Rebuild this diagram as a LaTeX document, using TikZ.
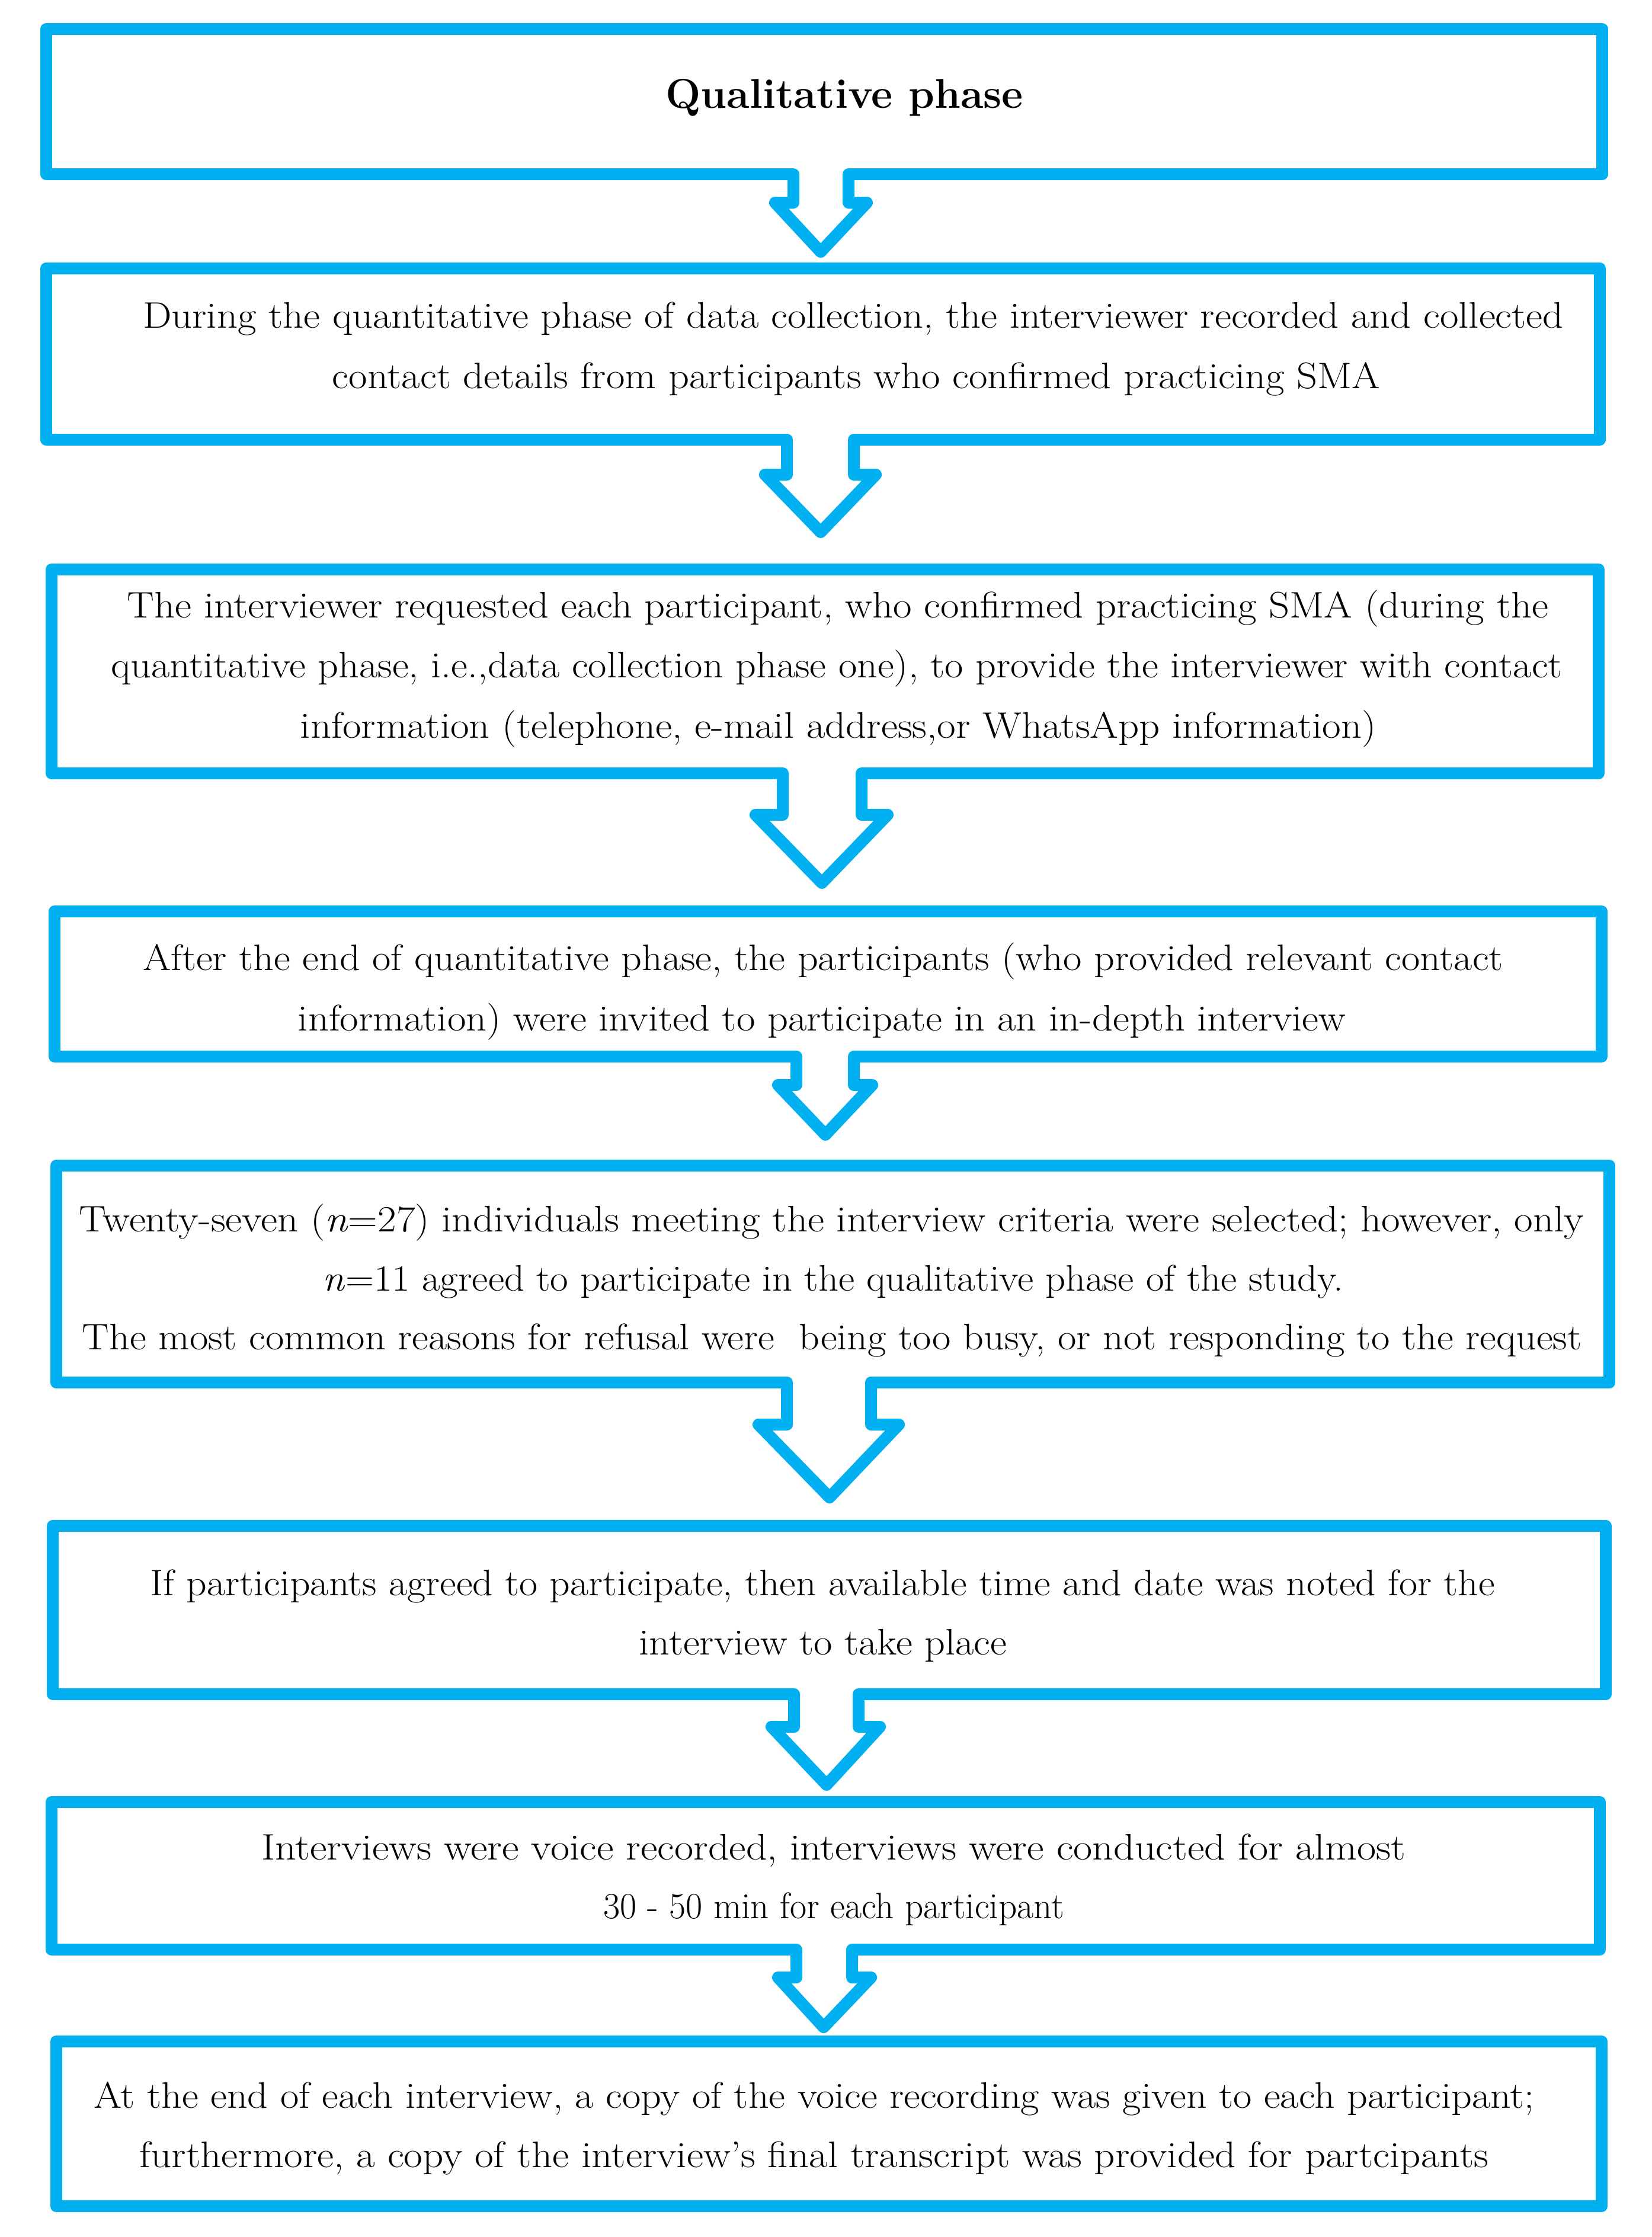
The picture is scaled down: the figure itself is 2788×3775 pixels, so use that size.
\documentclass[tikz,border=0pt]{standalone}
\usetikzlibrary{calc}
\definecolor{flowblue}{RGB}{0,176,240}
\tikzset{
  flowline/.style={draw=flowblue, line width=0.2cm, line join=round, line cap=round},
  box/.style={flowline, rectangle, inner sep=0pt, outer sep=0pt, fill=white},
  txt/.style={anchor=base, inner sep=0pt, font=\fontsize{17.7}{29}\selectfont},
  ttl/.style={anchor=base, inner sep=0pt, font=\fontsize{20}{24}\selectfont\bfseries},
}
% stretch a line horizontally to the width measured in the reference
\newcommand{\fitline}[2]{\resizebox{#1cm}{\height}{#2}}
% #1 from node, #2 to node, #3 shaft left x, #4 shaft right x, #5 shoulder drop,
% #6 wing left x, #7 wing right x, #8 tip x, #9 gap above target box
\newcommand{\blockarrow}[9]{%
  \coordinate (#1-sl) at (#1.south -| #3,0);
  \coordinate (#1-sr) at (#1.south -| #4,0);
  \coordinate (#1-ml) at ($(#1-sl)+(0,#5)$);
  \coordinate (#1-mr) at ($(#1-sr)+(0,#5)$);
  \coordinate (#1-wl) at (#1-ml -| #6,0);
  \coordinate (#1-wr) at (#1-mr -| #7,0);
  \coordinate (#1-tip) at ($(#2.north -| #8,0)+(0,-#9)$);
  \fill[white] ($(#1-sl)+(0,-11)$) -- (#1-ml) -- (#1-wl) -- (#1-tip) -- (#1-wr) -- (#1-mr) -- ($(#1-sr)+(0,-11)$) -- cycle;
  \draw[flowline] (#1-sl) -- (#1-ml) -- (#1-wl) -- (#1-tip) -- (#1-wr) -- (#1-mr) -- (#1-sr);
}
\begin{document}
\begin{tikzpicture}[x=0.01cm, y=-0.01cm]
\useasboundingbox (0,0) rectangle (2788,3775);
\fill[white] (0,0) rectangle (2788,3775);

% boxes
\node[box, minimum width={2626*0.01cm}, minimum height={245*0.01cm}] (b1) at (1391,171.5) {};
\node[box, minimum width={2622*0.01cm}, minimum height={289*0.01cm}] (b2) at (1389,597.5) {};
\node[box, minimum width={2611*0.01cm}, minimum height={344*0.01cm}] (b3) at (1392.5,1133) {};
\node[box, minimum width={2611*0.01cm}, minimum height={245*0.01cm}] (b4) at (1397.5,1660.5) {};
\node[box, minimum width={2621*0.01cm}, minimum height={366*0.01cm}] (b5) at (1405.5,2150) {};
\node[box, minimum width={2621*0.01cm}, minimum height={284*0.01cm}] (b6) at (1399.5,2717) {};
\node[box, minimum width={2613*0.01cm}, minimum height={249*0.01cm}] (b7) at (1393.5,3165.5) {};
\node[box, minimum width={2608*0.01cm}, minimum height={278*0.01cm}] (b8) at (1399,3584) {};

% block arrows
\blockarrow{b1}{b2}{1339}{1432}{48}{1308}{1463}{1385}{28}
\blockarrow{b2}{b3}{1328}{1441}{59}{1291}{1478}{1385}{63}
\blockarrow{b3}{b4}{1321}{1454}{70}{1275}{1498}{1387}{48}
\blockarrow{b4}{b5}{1344}{1441}{48}{1313}{1472}{1393}{52}
\blockarrow{b5}{b6}{1328}{1470}{71}{1280}{1517}{1400}{48}
\blockarrow{b6}{b7}{1340}{1449}{55}{1302}{1485}{1395}{29}
\blockarrow{b7}{b8}{1344}{1438}{47}{1313}{1470}{1390}{24}

% texts
\node[ttl] (t1) at (1425,182) {Qualitative phase};

\node[txt] (t2a) at (1440,553) {\fitline{23.96}{During the quantitative phase of data collection, the interviewer recorded and collected}};
\node[txt] (t2b) at (1445,655) {\fitline{17.67}{contact details from participants who confirmed practicing SMA}};

\node[txt] (t3a) at (1414,1042) {\fitline{23.97}{The interviewer requested each participant, who confirmed practicing SMA (during the}};
\node[txt] (t3b) at (1412,1143) {\fitline{24.48}{quantitative phase, i.e.,data collection phase one), to provide the interviewer with contact}};
\node[txt] (t3c) at (1415,1245) {\fitline{18.15}{information (telephone, e-mail address,or WhatsApp information)}};

\node[txt] (t4a) at (1389,1637) {\fitline{22.94}{After the end of quantitative phase, the participants (who provided relevant contact}};
\node[txt] (t4b) at (1387,1739) {\fitline{17.67}{information) were invited to participate in an in-depth interview}};

\node[txt] (t5a) at (1403,2078) {\fitline{25.38}{Twenty-seven (\textit{n}=27) individuals meeting the interview criteria were selected; however, only}};
\node[txt] (t5b) at (1406,2178) {\fitline{17.21}{\textit{n}=11 agreed to participate in the qualitative phase of the study.}};
\node[txt] (t5c) at (1404,2277) {\fitline{25.29}{The most common reasons for refusal were\ \ being too busy, or not responding to the request}};

\node[txt] (t6a) at (1388,2692) {\fitline{22.68}{If participants agreed to participate, then available time and date was noted for the}};
\node[txt] (t6b) at (1389,2792) {\fitline{6.20}{interview to take place}};

\node[txt] (t7a) at (1407,3138) {\fitline{19.29}{Interviews were voice recorded, interviews were conducted for almost}};
\node[txt] (t7b) at (1407,3237) {\fitline{7.77}{30 - 50 min for each participant}};

\node[txt] (t8a) at (1374,3557) {\fitline{24.30}{At the end of each interview, a copy of the voice recording was given to each participant;}};
\node[txt] (t8b) at (1374,3657) {\fitline{22.75}{furthermore, a copy of the interview’s final transcript was provided for partcipants}};
\end{tikzpicture}
\end{document}
